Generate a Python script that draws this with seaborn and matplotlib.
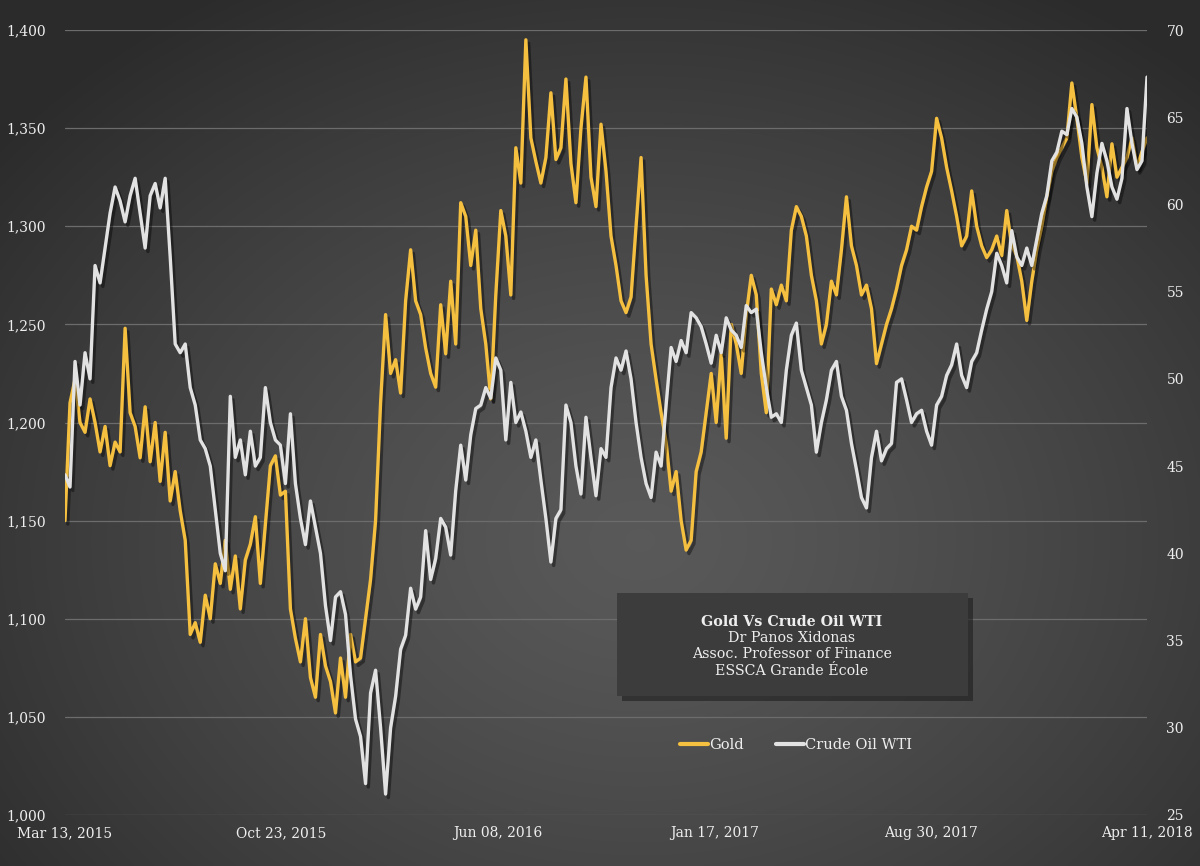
import numpy as np
import pandas as pd
import matplotlib
matplotlib.use("Agg")
import matplotlib.pyplot as plt
import matplotlib.patheffects as pe
from matplotlib.patches import Rectangle
from matplotlib.lines import Line2D
import seaborn as sns

sns.set_style("dark")
plt.rcParams['font.family'] = ['DejaVu Serif']

# values, one every ~3 trading days
gold = [1150, 1210, 1222, 1200, 1195, 1212, 1200, 1185, 1198, 1178,
        1190, 1185, 1248, 1205, 1198, 1182, 1208, 1180, 1200, 1170,
        1195, 1160, 1175, 1155, 1140, 1092, 1098, 1088, 1112, 1100,
        1128, 1118, 1140, 1115, 1132, 1105, 1130, 1138, 1152, 1118,
        1148, 1178, 1183, 1163, 1165, 1105, 1090, 1078, 1100, 1070,
        1060, 1092, 1076, 1068, 1052, 1080, 1060, 1092, 1078, 1080,
        1100, 1120, 1150, 1210, 1255, 1225, 1232, 1215, 1262, 1288,
        1262, 1255, 1238, 1225, 1218, 1260, 1235, 1272, 1240, 1312,
        1305, 1280, 1298, 1258, 1240, 1212, 1265, 1308, 1295, 1265,
        1340, 1322, 1395, 1345, 1333, 1322, 1335, 1368, 1334, 1340,
        1375, 1332, 1312, 1350, 1376, 1325, 1310, 1352, 1328, 1295,
        1280, 1262, 1256, 1264, 1300, 1335, 1275, 1240, 1222, 1205,
        1190, 1165, 1175, 1150, 1135, 1140, 1175, 1185, 1205, 1225,
        1200, 1235, 1192, 1250, 1240, 1225, 1255, 1275, 1265, 1225,
        1205, 1268, 1260, 1270, 1262, 1298, 1310, 1305, 1295, 1275,
        1262, 1240, 1250, 1272, 1265, 1288, 1315, 1290, 1280, 1265,
        1270, 1258, 1230, 1240, 1250, 1258, 1268, 1280, 1288, 1300,
        1298, 1310, 1320, 1328, 1355, 1345, 1330, 1318, 1305, 1290,
        1295, 1318, 1300, 1290, 1284, 1288, 1295, 1285, 1308, 1290,
        1285, 1272, 1252, 1272, 1288, 1300, 1315, 1328, 1335, 1340,
        1345, 1373, 1355, 1335, 1322, 1362, 1340, 1330, 1315, 1342,
        1325, 1330, 1335, 1345, 1330, 1338, 1345]

oil = [44.5, 43.8, 51.0, 48.5, 51.5, 50.0, 56.5, 55.5, 57.5, 59.5,
       61.0, 60.2, 59.0, 60.5, 61.5, 59.5, 57.5, 60.5, 61.2, 59.8,
       61.5, 57.0, 52.0, 51.5, 52.0, 49.5, 48.5, 46.5, 46.0, 45.0,
       42.5, 40.0, 39.0, 49.0, 45.5, 46.5, 44.5, 47.0, 45.0, 45.5,
       49.5, 47.5, 46.5, 46.2, 44.0, 48.0, 44.0, 42.0, 40.5, 43.0,
       41.5, 40.0, 37.0, 35.0, 37.5, 37.8, 36.5, 33.0, 30.5, 29.5,
       26.8, 32.0, 33.3, 30.0, 26.2, 30.0, 31.8, 34.5, 35.3, 38.0,
       36.8, 37.5, 41.3, 38.5, 39.7, 42.0, 41.5, 39.9, 43.6, 46.2,
       44.2, 46.8, 48.3, 48.5, 49.5, 48.9, 51.2, 50.5, 46.5, 49.8,
       47.5, 48.1, 47.0, 45.5, 46.5, 44.2, 42.0, 39.5, 42.0, 42.5,
       48.5, 47.5, 45.0, 43.4, 47.8, 45.5, 43.3, 46.0, 45.5, 49.5,
       51.2, 50.5, 51.6, 50.0, 47.5, 45.5, 44.0, 43.2, 45.8, 45.0,
       48.5, 51.8, 51.0, 52.2, 51.5, 53.8, 53.5, 53.0, 52.0, 50.9,
       52.5, 51.5, 53.5, 52.8, 52.5, 51.8, 54.2, 53.8, 54.0, 51.5,
       49.5, 47.8, 48.0, 47.5, 50.5, 52.5, 53.2, 50.5, 49.5, 48.5,
       45.8, 47.5, 48.8, 50.5, 51.0, 49.0, 48.2, 46.3, 44.8, 43.2,
       42.6, 45.5, 47.0, 45.3, 46.0, 46.3, 49.8, 50.0, 48.8, 47.5,
       48.0, 48.2, 47.0, 46.2, 48.5, 49.0, 50.2, 50.8, 52.0, 50.2,
       49.5, 51.0, 51.5, 52.8, 54.0, 55.0, 57.2, 56.5, 55.5, 58.5,
       57.0, 56.5, 57.5, 56.5, 58.0, 59.5, 60.5, 62.5, 63.0, 64.2,
       64.0, 65.5, 65.0, 63.5, 61.0, 59.3, 61.8, 63.5, 62.5, 61.0,
       60.3, 61.5, 65.5, 63.5, 62.0, 62.5, 67.3]

date_labels = ["Mar 13, 2015", "Oct 23, 2015", "Jun 08, 2016",
               "Jan 17, 2017", "Aug 30, 2017", "Apr 11, 2018"]
gold_ticks = [1000, 1050, 1100, 1150, 1200, 1250, 1300, 1350, 1400]
oil_ticks = [25, 30, 35, 40, 45, 50, 55, 60, 65, 70]

gold_color = "#f5bf40"
oil_color = "#e2e2e2"
text_color = "#eeeeee"

df = pd.DataFrame({"day": np.arange(len(gold)), "Gold": gold, "Crude Oil WTI": oil})
n = len(df)

fig = plt.figure(figsize=(12, 8.66), dpi=100)

# radial background glow
bg = fig.add_axes([0, 0, 1, 1], zorder=-10)
yy, xx = np.mgrid[0:866, 0:1200]
r = np.sqrt(((xx - 640) / 820.0) ** 2 + ((yy - 540) / 640.0) ** 2)
shade = 0.35 - 0.18 * np.clip(r, 0, 1) ** 1.3
bg.imshow(np.dstack([shade] * 3), aspect="auto", extent=[0, 1, 0, 1])
bg.axis("off")

ax = fig.add_axes([65 / 1200, 51 / 866, 1082 / 1200, 785 / 866])
ax.set_facecolor("none")
ax2 = ax.twinx()

shadow = [pe.SimpleLineShadow(offset=(2, -2.5), shadow_color="black", alpha=0.4), pe.Normal()]
sns.lineplot(data=df, x="day", y="Gold", ax=ax, color=gold_color, linewidth=2.4,
             path_effects=shadow)
sns.lineplot(data=df, x="day", y="Crude Oil WTI", ax=ax2, color=oil_color, linewidth=2.4,
             path_effects=shadow)

ax.set_xlim(0, n - 1)
ax.set_ylim(1000, 1400)
ax2.set_ylim(25, 70)
ax.set_yticks(gold_ticks)
ax.set_yticklabels([f"{v:,}" for v in gold_ticks])
ax2.set_yticks(oil_ticks)
ax.set_xticks(np.linspace(0, n - 1, len(date_labels)))
ax.set_xticklabels(date_labels)
ax.set_xlabel("")
ax.set_ylabel("")
ax2.set_ylabel("")

ax.grid(axis="y", color="#6c6c6c", linewidth=0.9)
ax.grid(axis="x", visible=False)
ax2.grid(False)
for a in (ax, ax2):
    for s in a.spines.values():
        s.set_visible(False)
    a.tick_params(length=0, colors=text_color, labelsize=10)
ax.tick_params(axis="y", pad=14)
ax2.tick_params(axis="y", pad=14)
ax.tick_params(axis="x", pad=8)

# caption box with a soft shadow
fig.patches.append(Rectangle((622 / 1200, 165 / 866), 351 / 1200, 103 / 866,
                             transform=fig.transFigure, facecolor="#1e1e1e",
                             edgecolor="none", linewidth=0, alpha=0.6, zorder=5))
fig.patches.append(Rectangle((617 / 1200, 170 / 866), 351 / 1200, 103 / 866,
                             transform=fig.transFigure, facecolor="#3c3c3c",
                             edgecolor="none", linewidth=0, zorder=6))
cx = 792 / 1200
fig.text(cx, 1 - 622 / 866, "Gold Vs Crude Oil WTI", ha="center", va="center",
         color=text_color, fontsize=10.3, fontweight="bold", zorder=7)
for yline, line in zip([638, 654, 671], ["Dr Panos Xidonas", "Assoc. Professor of Finance",
                                          "ESSCA Grande École"]):
    fig.text(cx, 1 - yline / 866, line, ha="center", va="center", color=text_color,
             fontsize=10.3, zorder=7)

handles = [Line2D([], [], color=gold_color, linewidth=3),
           Line2D([], [], color=oil_color, linewidth=3)]
leg = fig.legend(handles, ["Gold", "Crude Oil WTI"], loc="center",
                 bbox_to_anchor=(796 / 1200, 1 - 745 / 866), ncol=2, frameon=False,
                 handlelength=1.9, handletextpad=0.1, columnspacing=2.2, fontsize=10.5)
for t in leg.get_texts():
    t.set_color(text_color)

fig.savefig("out.png", dpi=100)
